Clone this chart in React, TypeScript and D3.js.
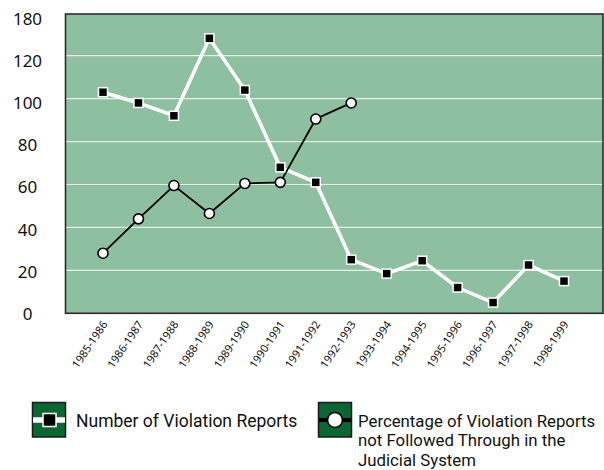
import React from "react";
import * as d3 from "d3";

const categories = [
  "1985-1986", "1986-1987", "1987-1988", "1988-1989", "1989-1990",
  "1990-1991", "1991-1992", "1992-1993", "1993-1994", "1994-1995",
  "1995-1996", "1996-1997", "1997-1998", "1998-1999",
];
const violationReports = [103, 98, 92, 145, 104, 68, 61, 25, 18.5, 24.5, 12, 5, 22.5, 15];
const notFollowedPct = [28, 44, 59.5, 46.5, 60.5, 61, 90.5, 98];
const yTicks = [0, 20, 40, 60, 80, 100, 120, 180];
const gridTicks = [20, 40, 60, 80, 100, 120];
const legendLabel1 = "Number of Violation Reports";
const legendLabel2 = [
  "Percentage of Violation Reports",
  "not Followed Through in the",
  "Judicial System",
];

const W = 604;
const H = 470;
const plot = { left: 65.5, top: 14, right: 603, bottom: 313.3 };
const FONT = "'Noto Sans', 'Open Sans', sans-serif";
const LFONT = "Roboto, 'Noto Sans', sans-serif";

export default function App() {
  const x = d3
    .scalePoint<string>()
    .domain(categories)
    .range([103, 564]);
  const y = d3
    .scaleLinear()
    .domain([0, 120, 180])
    .range([plot.bottom, 55.7, plot.top]);
  // tick labels are set evenly down the axis
  const yLabel = d3
    .scalePoint<number>()
    .domain(yTicks)
    .range([313.8, 19]);

  const line = d3
    .line<number>()
    .x((_, i) => x(categories[i]) as number)
    .y((d) => y(d));

  return (
    <div style={{ position: "absolute", left: 0, top: 0 }}>
      <svg width={W} height={H} style={{ display: "block", background: "#fff" }}>
        <rect
          x={plot.left}
          y={plot.top}
          width={plot.right - plot.left}
          height={plot.bottom - plot.top}
          fill="#8ebfa1"
        />
        {gridTicks.map((t) => (
          <line
            key={t}
            x1={plot.left}
            x2={plot.right}
            y1={y(t)}
            y2={y(t)}
            stroke="#e4f1e8"
            strokeWidth={1.2}
          />
        ))}
        <rect
          x={plot.left}
          y={plot.top}
          width={plot.right - plot.left}
          height={plot.bottom - plot.top}
          fill="none"
          stroke="#2b2b2b"
          strokeWidth={1.6}
        />
        {yTicks.map((t) => (
          <text
            key={t}
            x={27.5}
            y={(yLabel(t) as number) + 6}
            textAnchor="middle"
            fontFamily={FONT}
            fontSize={17}
            fill="#111"
          >
            {t}
          </text>
        ))}
        {categories.map((c) => (
          <text
            key={c}
            transform={`translate(${(x(c) as number) + 5},${plot.bottom + 11}) rotate(-56)`}
            textAnchor="end"
            fontFamily={FONT}
            fontSize={11}
            fill="#111"
          >
            {c}
          </text>
        ))}
        <path
          d={line(violationReports) || ""}
          fill="none"
          stroke="#fff"
          strokeWidth={3.6}
          strokeLinejoin="miter"
        />
        <path
          d={line(notFollowedPct) || ""}
          fill="none"
          stroke="#000"
          strokeWidth={1.8}
        />
        {violationReports.map((v, i) => (
          <rect
            key={i}
            x={(x(categories[i]) as number) - 4.5}
            y={y(v) - 4.5}
            width={9}
            height={9}
            fill="#000"
            stroke="#fff"
            strokeWidth={1.5}
          />
        ))}
        {notFollowedPct.map((v, i) => (
          <circle
            key={i}
            cx={x(categories[i]) as number}
            cy={y(v)}
            r={5}
            fill="#fff"
            stroke="#000"
            strokeWidth={1.6}
          />
        ))}
        {/* Legend */}
        <g>
          <rect x={32.5} y={402.5} width={33} height={34.5} fill="#0c6633" stroke="#1a1a1a" strokeWidth={1.5} />
          <line x1={33} x2={65} y1={420} y2={420} stroke="#fff" strokeWidth={5.5} />
          <rect x={43} y={413.5} width={13} height={13} fill="#000" stroke="#fff" strokeWidth={1.5} />
          <text x={76} y={426.5} fontFamily={LFONT} fontSize={17.5} fill="#111">
            {legendLabel1}
          </text>
        </g>
        <g>
          <rect x={318.5} y={402.5} width={33} height={34.5} fill="#0c6633" stroke="#1a1a1a" strokeWidth={1.5} />
          <line x1={319} x2={351} y1={420} y2={420} stroke="#000" strokeWidth={4} />
          <circle cx={335} cy={420} r={7.5} fill="#fff" stroke="#000" strokeWidth={1.6} />
          {legendLabel2.map((l, i) => (
            <text key={i} x={358} y={426.5 + i * 19.8} fontFamily={LFONT} fontSize={16.8} fill="#111">
              {l}
            </text>
          ))}
        </g>
      </svg>
    </div>
  );
}
